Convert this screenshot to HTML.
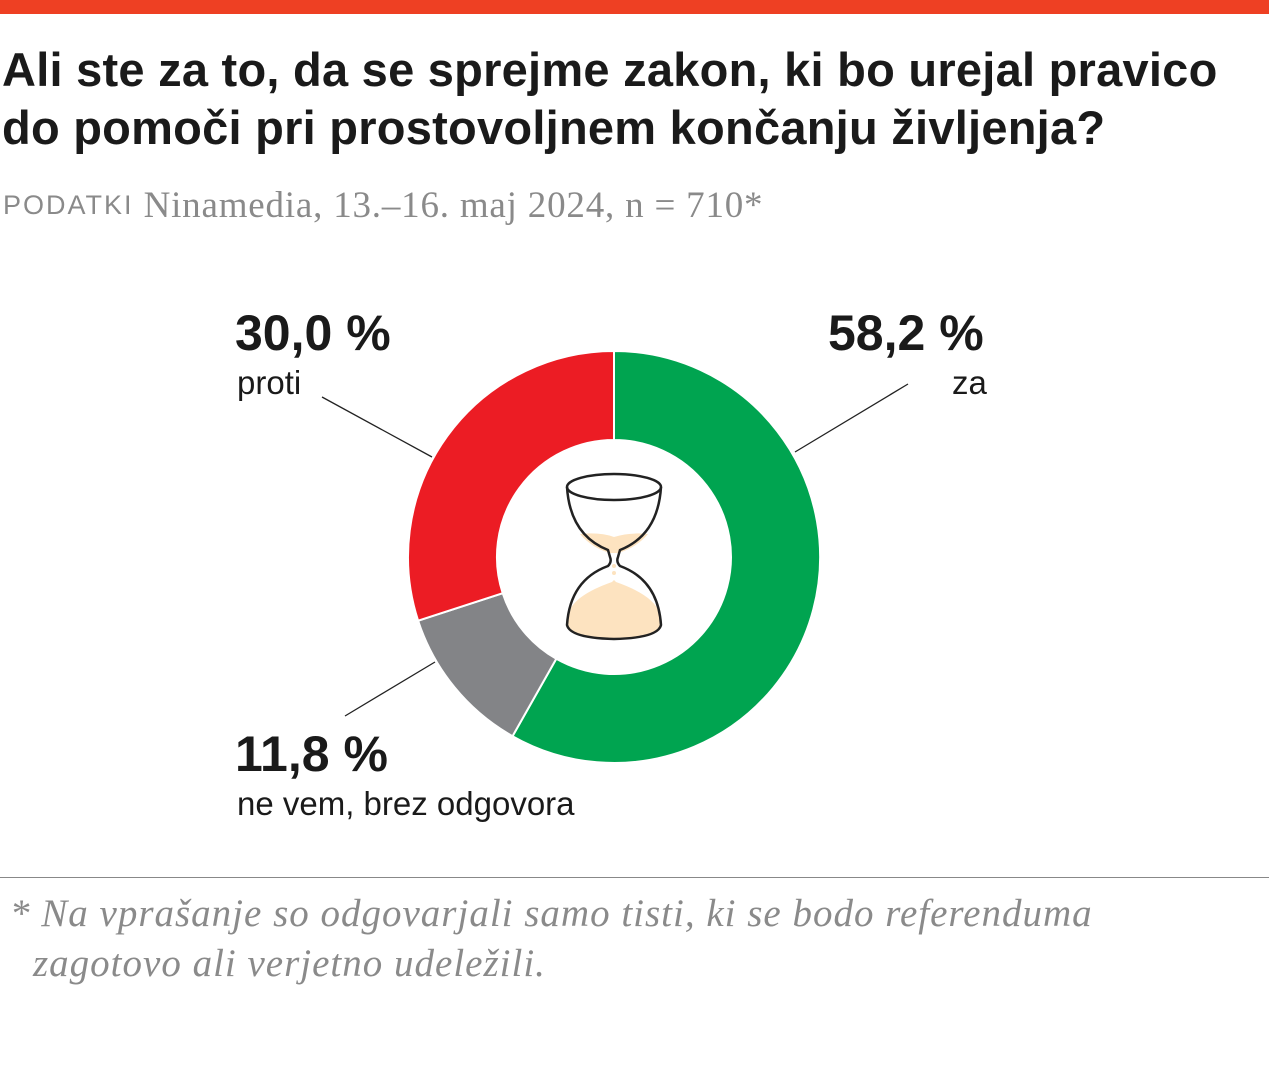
<!DOCTYPE html>
<html><head><meta charset="utf-8"><style>
body{margin:0;background:#fff;width:1269px;height:1088px;overflow:hidden;position:relative;font-family:"Liberation Sans",sans-serif;color:#1a1a1a}
.bar{position:absolute;left:0;top:0;width:1269px;height:14px;background:#ee4023}
.t{position:absolute;left:2px;top:41px;font-size:47px;font-weight:bold;line-height:58px;white-space:nowrap;letter-spacing:0.25px}
.src{position:absolute;left:3px;top:184px;font-family:"Liberation Serif",serif;font-size:37px;color:#8a8a8a;letter-spacing:0.8px;white-space:nowrap}
.src span{font-family:"Liberation Sans",sans-serif;font-size:27px;letter-spacing:2px;vertical-align:3px}
.p{position:absolute;font-size:50px;font-weight:bold;white-space:nowrap}
.l{position:absolute;font-size:33px;white-space:nowrap}
.hr{position:absolute;left:0;top:877px;width:1269px;height:1px;background:#888}
.note{position:absolute;font-family:"Liberation Serif",serif;font-style:italic;font-size:39px;color:#8a8a8a;letter-spacing:1px;white-space:nowrap}
</style></head><body>
<div class="bar"></div>
<div class="t">Ali ste za to, da se sprejme zakon, ki bo urejal pravico<br>do pomoči pri prostovoljnem končanju življenja?</div>
<div class="src"><span>PODATKI</span> Ninamedia, 13.–16. maj 2024, n = 710*</div>
<svg width="1269" height="1088" style="position:absolute;left:0;top:0">
<path d="M614 351 A206 206 0 1 1 512.5 736.2 L556.3 658.8 A117 117 0 1 0 614 440 Z" fill="#00a450" stroke="#fff" stroke-width="2"/>
<path d="M512.5 736.2 A206 206 0 0 1 418.1 620.7 L502.7 593.2 A117 117 0 0 0 556.3 658.8 Z" fill="#838487" stroke="#fff" stroke-width="2"/>
<path d="M418.1 620.7 A206 206 0 0 1 614 351 L614 440 A117 117 0 0 0 502.7 593.2 Z" fill="#ec1c24" stroke="#fff" stroke-width="2"/>
<line x1="322" y1="397" x2="432" y2="457" stroke="#222" stroke-width="1.3"/>
<line x1="908" y1="384" x2="795" y2="452" stroke="#222" stroke-width="1.3"/>
<line x1="345" y1="716" x2="435" y2="662" stroke="#222" stroke-width="1.3"/>
<path d="M580 534 Q600 532 614 537 Q630 532 648 534 Q636 548 618 553 L610 553 Q592 548 580 534Z" fill="#fde3c0"/>
<path d="M614 580 L612 582 Q575 595 569 612 L567 626 Q575 638 614 638 Q653 638 661 626 L659 612 Q653 595 616 582Z" fill="#fde3c0"/>
<circle cx="614" cy="566" r="2" fill="#fde3c0"/><circle cx="614" cy="573" r="2" fill="#fde3c0"/>
<ellipse cx="614" cy="487" rx="47" ry="13" fill="none" stroke="#222" stroke-width="2.5"/>
<path d="M567 487 Q570 535 608 550 L610 557 Q612 562 608 566 Q570 580 567 625 Q570 638 614 639 Q658 638 661 625 Q658 580 620 566 Q616 562 618 557 L620 550 Q658 535 661 487" fill="none" stroke="#222" stroke-width="2.5"/>
</svg>
<div class="p" style="left:235px;top:304px">30,0 %</div>
<div class="l" style="left:237px;top:364px">proti</div>
<div class="p" style="left:828px;top:304px">58,2 %</div>
<div class="l" style="left:952px;top:364px">za</div>
<div class="p" style="left:235px;top:725px">11,8 %</div>
<div class="l" style="left:237px;top:785px">ne vem, brez odgovora</div>
<div class="hr"></div>
<div class="note" style="left:10px;top:891px">* Na vprašanje so odgovarjali samo tisti, ki se bodo referenduma</div>
<div class="note" style="left:33px;top:941px">zagotovo ali verjetno udeležili.</div>
</body></html>
